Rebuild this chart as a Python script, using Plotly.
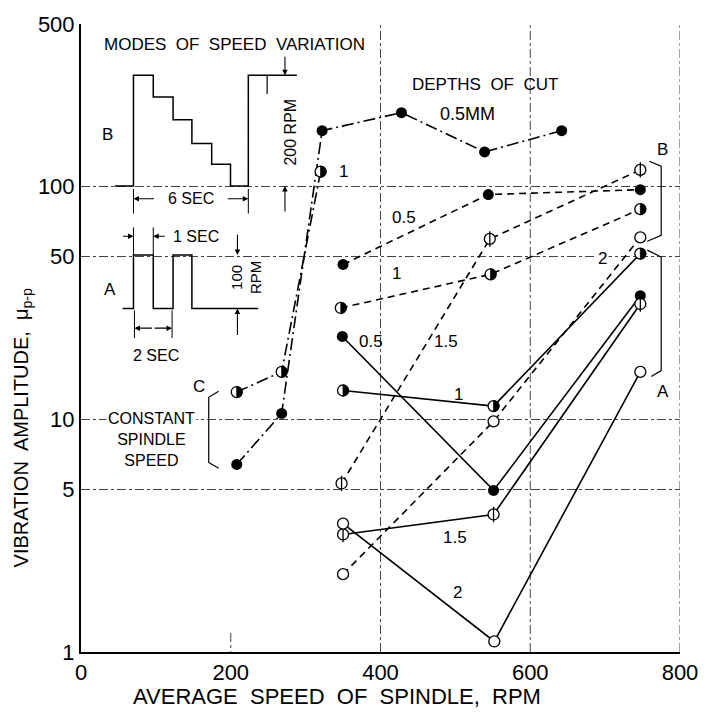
import math
import plotly.graph_objects as go

# ---------------- data ----------------
# C: constant spindle speed (dash-dot)
c_d05_speed = [208, 268, 322, 428, 539, 642]
c_d05_amp = [6.4, 10.6, 174, 208, 141, 174]
c_d1_speed = [208, 268, 320]
c_d1_amp = [13.1, 16.0, 116]

# B: stepwise speed variation (dashed)
b_d05_speed = [350, 544, 747]
b_d05_amp = [46.3, 92.5, 97]
b_d1_speed = [347, 547, 747]
b_d1_amp = [30.1, 42, 80]
b_d15_speed = [348, 546, 747]
b_d15_amp = [5.3, 59.6, 118]
b_d2_speed = [350, 551, 747]
b_d2_amp = [2.16, 9.8, 60.5]

# A: square-wave speed variation (solid)
a_d05_speed = [349, 551, 747]
a_d05_amp = [22.7, 4.95, 34]
a_d1_speed = [350, 551, 747]
a_d1_amp = [13.3, 11.4, 51.5]
a_d15_speed = [350, 551, 747]
a_d15_amp = [3.2, 3.9, 31.3]
a_d2_speed = [350, 552, 747]
a_d2_amp = [3.56, 1.11, 16.0]

x_ticks = [0, 200, 400, 600, 800]
y_ticks = [1, 5, 10, 50, 100, 500]
y_ticklabels = ["1", "5", "10", "50", "100", "500"]

FONT = "Liberation Sans"

# plot area in pixels
L, T, W, H = 81, 16, 605, 636


def P(px, py):
    return ((px - L) / W, (T + H - py) / H)


fig = go.Figure()
shapes = []

DASH = {"A": "solid", "B": "7px,5px", "C": "12px,4px,2px,4px"}
MS = 11
R = 5.5
K = 0.5523 * R
HALF_PATH = (f"M0,{R} C{K:.3f},{R} {R},{K:.3f} {R},0 "
             f"C{R},{-K:.3f} {K:.3f},{-R} 0,{-R} Z")


def add_series(xs, ys, kind, style):
    fig.add_trace(go.Scatter(x=xs, y=ys, mode="lines",
                             line=dict(color="black", width=1.6, dash=DASH[kind]),
                             hoverinfo="skip"))
    if style == "filled":
        fig.add_trace(go.Scatter(x=xs, y=ys, mode="markers",
                                 marker=dict(symbol="circle", size=MS, color="black",
                                             line=dict(width=0))))
    else:
        fig.add_trace(go.Scatter(x=xs, y=ys, mode="markers",
                                 marker=dict(symbol="circle", size=MS, color="white",
                                             line=dict(width=1.3, color="black"))))
    if style == "bar":
        fig.add_trace(go.Scatter(x=xs, y=ys, mode="markers",
                                 marker=dict(symbol="line-ns", size=MS, color="black",
                                             line=dict(width=1.3, color="black"))))
    if style == "half":
        for xv, yv in zip(xs, ys):
            shapes.append(dict(type="path", xref="x", yref="y",
                               xsizemode="pixel", ysizemode="pixel",
                               xanchor=xv, yanchor=yv,
                               path=HALF_PATH, fillcolor="black",
                               line=dict(width=0.8, color="black")))


add_series(c_d05_speed, c_d05_amp, "C", "filled")
add_series(c_d1_speed, c_d1_amp, "C", "half")
add_series(b_d05_speed, b_d05_amp, "B", "filled")
add_series(b_d1_speed, b_d1_amp, "B", "half")
add_series(b_d15_speed, b_d15_amp, "B", "bar")
add_series(b_d2_speed, b_d2_amp, "B", "open")
add_series(a_d05_speed, a_d05_amp, "A", "filled")
add_series(a_d1_speed, a_d1_amp, "A", "half")
add_series(a_d15_speed, a_d15_amp, "A", "bar")
add_series(a_d2_speed, a_d2_amp, "A", "open")

# vertical grid lines
for xv in x_ticks[2:]:
    shapes.append(dict(type="line", xref="x", yref="paper", x0=xv, x1=xv, y0=0, y1=1,
                       layer="below", line=dict(color="#444", width=1, dash="dashdot")))
shapes.append(dict(type="line", xref="x", yref="y", x0=200, x1=200, y0=0, y1=math.log10(17),
                   layer="below", line=dict(color="#444", width=1, dash="dashdot")))


def path(pts):
    s = ""
    for i, (px, py) in enumerate(pts):
        xp, yp = P(px, py)
        s += ("M" if i == 0 else "L") + f"{xp:.5f},{yp:.5f} "
    return s


def pshape(pts, width=1.5):
    shapes.append(dict(type="path", xref="paper", yref="paper", path=path(pts),
                       line=dict(color="black", width=width)))


# inset waveform B (stepped)
pshape([(115, 180), (134, 180), (134, 68), (154, 68), (154, 90), (174, 90), (174, 113),
        (193, 113), (193, 137), (213, 137), (213, 158), (232, 158), (232, 180), (250, 180),
        (250, 68), (299, 68)])
pshape([(269, 68), (269, 87)], 1.2)
pshape([(134, 183), (134, 208)], 1)
pshape([(250, 183), (250, 208)], 1)
# inset waveform A (square)
pshape([(123, 304), (134, 304), (134, 250), (154, 250), (154, 304), (174, 304), (174, 250),
        (193, 250), (193, 304), (260, 304)])
pshape([(134, 222), (134, 250)], 1)
pshape([(154, 222), (154, 250)], 1)
pshape([(135, 306), (135, 334)], 1)
pshape([(173, 306), (173, 334)], 1)
# brackets
pshape([(655, 155), (667, 160), (667, 230), (653, 236)], 1.2)
pshape([(653, 245), (667, 252), (667, 367), (657, 373)], 1.2)
pshape([(220, 388), (210, 394), (210, 460), (220, 466)], 1.2)

fig.update_layout(shapes=shapes)


def arrow(tip, dx, dy):
    xp, yp = P(*tip)
    fig.add_annotation(x=xp, y=yp, xref="paper", yref="paper", text="", showarrow=True,
                       ax=dx, ay=dy, arrowhead=2, arrowsize=1, arrowwidth=1.1,
                       arrowcolor="black", standoff=0)


arrow((134, 193), 22, 0)
arrow((250, 193), -22, 0)
arrow((287, 68), 0, -20)
arrow((287, 180), 0, 27)
arrow((134, 231), -12, 0)
arrow((154, 231), 13, 0)
arrow((135, 324), 19, 0)
arrow((173, 324), -19, 0)
arrow((239, 250), 0, -22)
arrow((239, 304), 0, 28)


def label(text, px, py, size=17, angle=0, xanchor="center", bg=None):
    xp, yp = P(px, py)
    fig.add_annotation(x=xp, y=yp, xref="paper", yref="paper", text=text, showarrow=False,
                       textangle=angle, xanchor=xanchor, yanchor="middle",
                       font=dict(family=FONT, size=size, color="black"),
                       bgcolor=bg)


label("MODES\u00a0 OF\u00a0 SPEED\u00a0 VARIATION", 236, 37, 17)
label("B", 108, 128, 17)
label("A", 110, 285, 17)
label("6 SEC", 192, 193, 16, bg="white")
label("1 SEC", 197, 231, 16)
label("2 SEC", 157, 352, 16)
label("200 RPM", 293, 125, 16, angle=-90)
label("100<br>RPM", 248, 273, 15, angle=-90)
label("DEPTHS\u00a0 OF\u00a0 CUT", 489, 77, 17)
label("0.5MM", 471, 107, 18)
label("1", 346, 165, 17)
label("0.5", 407, 212, 17)
label("1", 400, 269, 17)
label("2", 608, 253, 17, bg="white")
label("0.5", 374, 338, 17)
label("1.5", 450, 338, 17)
label("1", 462, 391, 17)
label("1.5", 459, 536, 17)
label("2", 461, 592, 17)
label("B", 668, 143, 17)
label("A", 669, 388, 17)
label("C", 200, 383, 17)
label("CONSTANT<br>SPINDLE<br>SPEED", 106, 437, 16, xanchor="left", bg="white")
label("VIBRATION\u00a0 AMPLITUDE,\u00a0 \u03bc<sub>p-p</sub>", 22, 425, 20, angle=-90)
label("AVERAGE\u00a0 SPEED\u00a0 OF\u00a0 SPINDLE,\u00a0 RPM", 340, 697, 22)

fig.update_layout(
    width=710, height=721,
    margin=dict(l=L, r=710 - L - W, t=T, b=721 - T - H),
    plot_bgcolor="white", paper_bgcolor="white",
    showlegend=False,
    font=dict(family=FONT, color="black"),
    xaxis=dict(range=[0, 800], tickvals=x_ticks, ticks="", showgrid=False, zeroline=False,
               showline=True, linewidth=2, linecolor="black",
               tickfont=dict(family=FONT, size=22)),
    yaxis=dict(type="log", range=[0, math.log10(500)], tickvals=y_ticks, ticktext=y_ticklabels,
               ticks="", showgrid=True, gridcolor="#444", gridwidth=1, griddash="dashdot",
               zeroline=False, showline=True, linewidth=2, linecolor="black",
               tickfont=dict(family=FONT, size=22)),
)

fig.write_html("out.html")
